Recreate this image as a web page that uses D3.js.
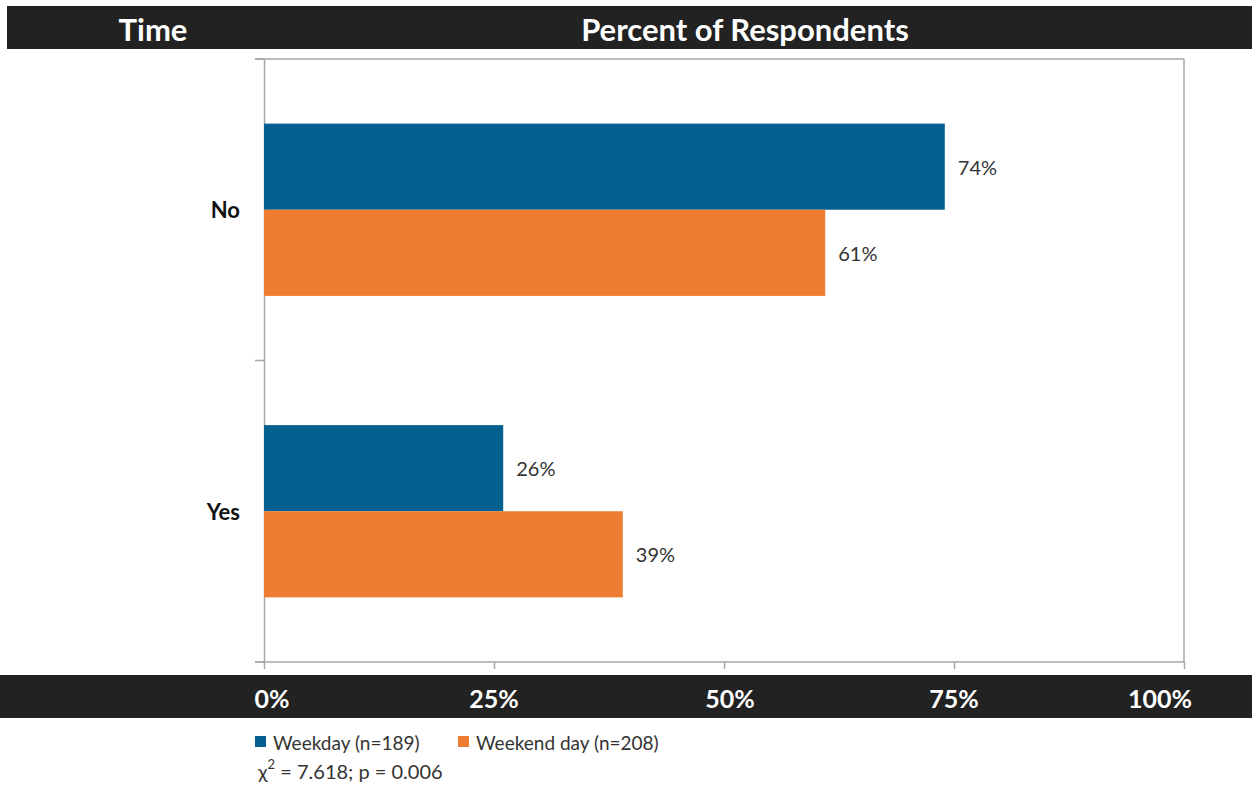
<!DOCTYPE html>
<html><head><meta charset="utf-8">
<script src="https://cdn.jsdelivr.net/npm/d3@7"></script>
<style>body{margin:0;background:#fff;} svg{display:block;}</style>
</head><body>
<script>
const categories = ["No", "Yes"];
const seriesNames = ["Weekday (n=189)", "Weekend day (n=208)"];
const weekday = [74, 26];
const weekendDay = [61, 39];
const tickValues = [0, 25, 50, 75, 100];
const tickLabels = ["0%", "25%", "50%", "75%", "100%"];
const headerLeft = "Time";
const headerRight = "Percent of Respondents";
const statChi = "χ";
const statRest = " = 7.618; p = 0.006";

const W = 1252, H = 794;
const colors = ["#04618F", "#ED7D31"];
const font = "Lato, 'Open Sans', sans-serif";
const svg = d3.select("body").append("svg").attr("width", W).attr("height", H);

const x = d3.scaleLinear().domain([0, 100]).range([264, 1184]);
const y = d3.scaleBand().domain(categories).range([59, 662]);
const y1 = d3.scaleBand().domain(seriesNames).range([0, y.bandwidth()]).paddingOuter(0.75).paddingInner(0);

// header bar
svg.append("rect").attr("x", 7).attr("y", 6).attr("width", W - 7).attr("height", 43).attr("fill", "#222");
svg.append("text").attr("x", 153).attr("y", 29).attr("text-anchor", "middle").attr("dominant-baseline", "central")
  .attr("fill", "#fff").style("font", `bold 31px ${font}`).text(headerLeft);
svg.append("text").attr("x", 745).attr("y", 29).attr("text-anchor", "middle").attr("dominant-baseline", "central")
  .attr("fill", "#fff").style("font", `bold 31px ${font}`).text(headerRight);

// plot border
const g = svg.append("g");
g.append("line").attr("x1", 255).attr("x2", x(100)).attr("y1", 59).attr("y2", 59).attr("stroke", "#a6a6a6").attr("stroke-width", 1.5);
g.append("line").attr("x1", x(100)).attr("x2", x(100)).attr("y1", 59).attr("y2", 662).attr("stroke", "#a6a6a6").attr("stroke-width", 1.5);

// y axis
const yAxis = g.append("g").attr("transform", "translate(264,0)")
  .call(d3.axisLeft(y).tickSize(0).tickFormat(""));
yAxis.select(".domain").attr("stroke", "#a6a6a6").attr("stroke-width", 1.5);
const bounds = [59, 59 + y.bandwidth(), 662];
g.selectAll("line.ytick").data(bounds).join("line").attr("class", "ytick")
  .attr("x1", 255).attr("x2", 264).attr("y1", d => d).attr("y2", d => d)
  .attr("stroke", "#a6a6a6").attr("stroke-width", 1.5);

// x axis
const xAxis = g.append("g").attr("transform", "translate(0,662)")
  .call(d3.axisBottom(x).tickValues(tickValues).tickSize(7).tickFormat(""));
xAxis.select(".domain").remove();
xAxis.selectAll("line").attr("stroke", "#a6a6a6").attr("stroke-width", 1.5);
g.append("line").attr("x1", 255).attr("x2", x(100)).attr("y1", 662).attr("y2", 662).attr("stroke", "#a6a6a6").attr("stroke-width", 1.5);

// category labels
g.selectAll("text.cat").data(categories).join("text").attr("class", "cat")
  .attr("x", 240).attr("y", d => y(d) + y.bandwidth() / 2)
  .attr("text-anchor", "end").attr("dominant-baseline", "central")
  .attr("fill", "#111").style("font", `bold 22px ${font}`).text(d => d);

// bars
const series = [weekday, weekendDay];
series.forEach((vals, si) => {
  const grp = g.append("g");
  grp.selectAll("rect").data(categories).join("rect")
    .attr("x", x(0)).attr("y", (d) => y(d) + y1(seriesNames[si]))
    .attr("width", (d, i) => x(vals[i]) - x(0)).attr("height", y1.bandwidth())
    .attr("fill", colors[si]);
  grp.selectAll("text").data(categories).join("text")
    .attr("x", (d, i) => x(vals[i]) + 13).attr("y", d => y(d) + y1(seriesNames[si]) + y1.bandwidth() / 2)
    .attr("dominant-baseline", "central").attr("fill", "#333").style("font", `20px ${font}`)
    .text((d, i) => vals[i] + "%");
});

// bottom bar
svg.append("rect").attr("x", 0).attr("y", 675).attr("width", W).attr("height", 43).attr("fill", "#222");
svg.selectAll("text.tl").data(tickValues).join("text").attr("class", "tl")
  .attr("x", d => Math.min(Math.max(x(d), 272), 1160) + (d === 50 ? 6 : 0)).attr("y", 698)
  .attr("text-anchor", "middle").attr("dominant-baseline", "central")
  .attr("fill", "#fff").style("font", `bold 25px ${font}`).text((d, i) => tickLabels[i]);

// legend
const legX = [255, 458];
seriesNames.forEach((n, i) => {
  svg.append("rect").attr("x", legX[i]).attr("y", 736).attr("width", 11).attr("height", 11).attr("fill", colors[i]);
  svg.append("text").attr("x", legX[i] + 18).attr("y", 742).attr("dominant-baseline", "central")
    .attr("fill", "#333").style("font", `19px ${font}`).text(n);
});
const st = svg.append("text").attr("x", 258).attr("y", 771).attr("dominant-baseline", "central")
  .attr("fill", "#333").style("font", `20px ${font}`);
st.append("tspan").text(statChi);
st.append("tspan").attr("dy", -7).style("font-size", "13px").text("2");
st.append("tspan").attr("dy", 7).text(statRest);
</script>
</body></html>
